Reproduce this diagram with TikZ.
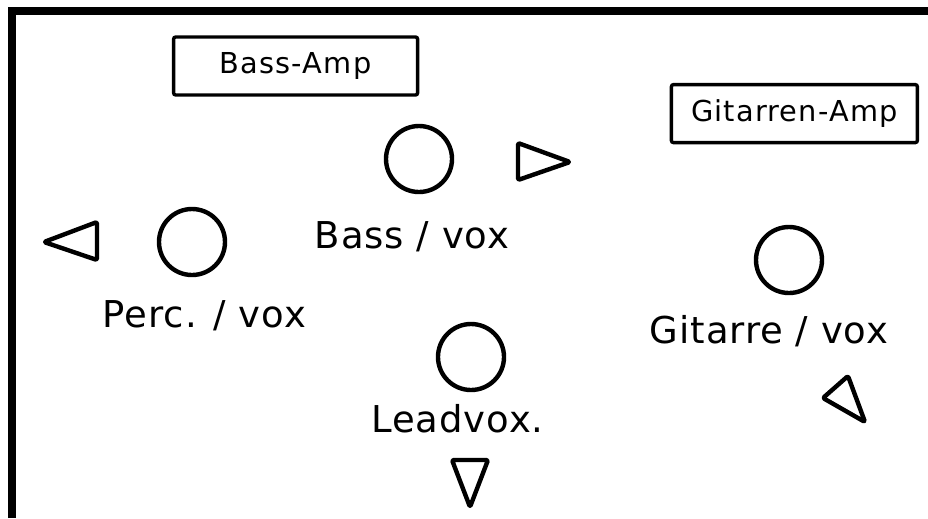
\documentclass[tikz,border=0pt]{standalone}
\usepackage{fontspec}
\setmainfont{DejaVu Sans}
\newfontfamily\ampfont[LetterSpace=4]{DejaVu Sans}
\newfontfamily\playerfont[LetterSpace=2.5]{DejaVu Sans}
\begin{document}
\begin{tikzpicture}[
        amp/.style={rectangle, draw, line width=0.085cm, rounded corners=1.5pt, minimum width=6.1cm, minimum height=1.45cm, inner sep=0pt, font=\ampfont\fontsize{20.5}{24}\selectfont},
        player/.style={circle, draw, line width=0.11cm, minimum size=1.65cm, inner sep=0pt},
        playerlabel/.style={anchor=base, inner sep=0pt, font=\playerfont\fontsize{26.3}{31}\selectfont},
        speaker/.style={line width=0.11cm, line join=round, rounded corners=1pt}
    ]
        \useasboundingbox (0,0) rectangle (23.2,-12.95);
        % Buehnenrand
        \draw[line width=0.2cm] (0.3,-12.95) -- (0.3,-0.275) -- (23.2,-0.275);
        % Verstaerker
        \node[amp] (bassamp) at (7.39,-1.65) {Bass-Amp};
        \node[amp, minimum width=6.15cm] (gitamp) at (19.86,-2.84) {Gitarren-Amp};
        % Musiker
        \node[player] (bass) at (10.475,-3.975) {};
        \node[player] (perc) at (4.8,-6.05) {};
        \node[player] (gitarre) at (19.725,-6.5) {};
        \node[player] (lead) at (11.775,-8.925) {};
        \node[playerlabel] (basslabel) at (10.3,-6.2) {Bass / vox};
        \node[playerlabel] (perclabel) at (5.11,-8.175) {Perc. / vox};
        \node[playerlabel] (gitlabel) at (19.225,-8.575) {Gitarre / vox};
        \node[playerlabel] (leadlabel) at (11.44,-10.8) {Leadvox.};
        % Monitore
        \draw[speaker] (12.95,-3.575) -- (12.95,-4.5) -- (14.25,-4.05) -- cycle;
        \draw[speaker] (2.425,-5.55) -- (2.425,-6.5) -- (1.1,-6.05) -- cycle;
        \draw[speaker] (11.3,-11.5) -- (12.2,-11.5) -- (11.75,-12.675) -- cycle;
        \draw[speaker] (21.2,-9.4) -- (20.575,-9.95) -- (21.625,-10.55) -- cycle;
    \end{tikzpicture}
\end{document}
